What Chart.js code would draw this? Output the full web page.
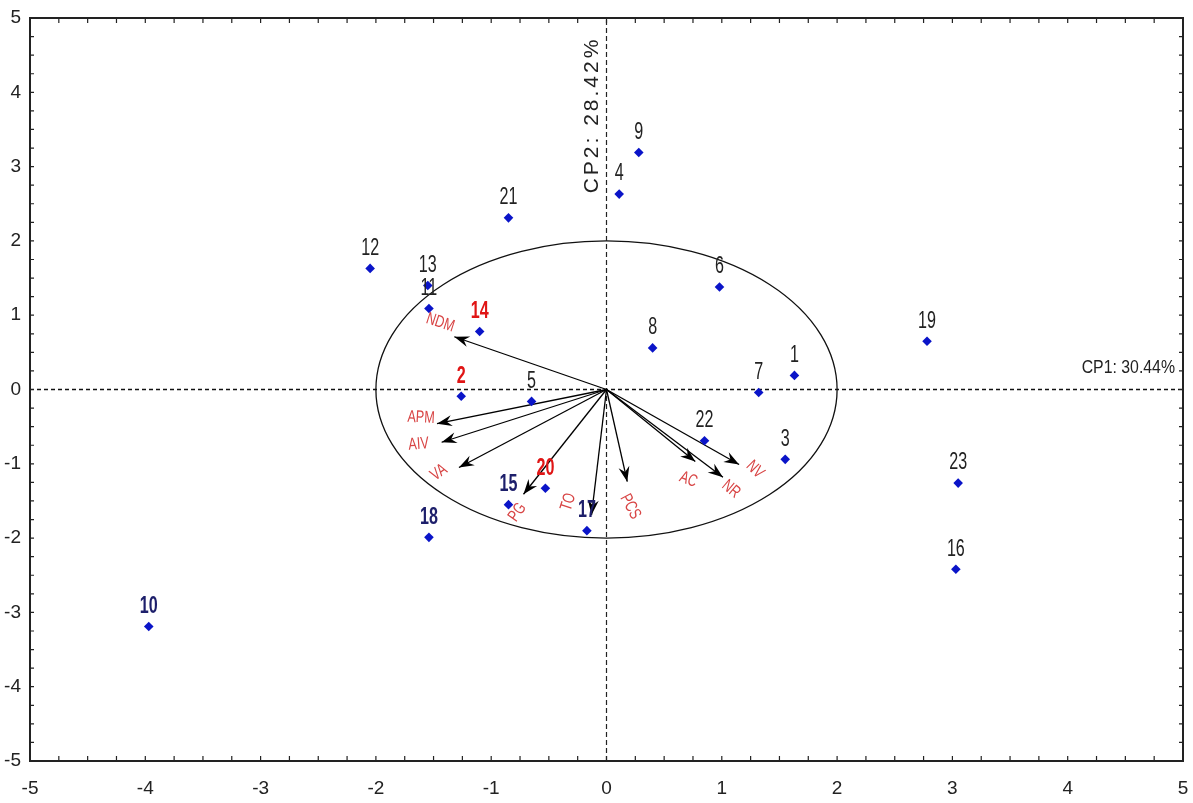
<!DOCTYPE html>
<html lang="en">
<head>
    <meta charset="UTF-8">
    <title>CP1 / CP2 biplot</title>
    <style>
        body {
            margin: 0;
            padding: 0;
            background-color: #fff;
        }
        #wrap {
            width: 1193px;
            height: 803px;
        }
    </style>
</head>
<body>
    <div id="wrap"><canvas id="pcaChart"></canvas></div>

    <script src="https://cdn.jsdelivr.net/npm/chart.js"></script>
    <script>
        // observations (scores)
        var obsLabels = ['1', '2', '3', '4', '5', '6', '7', '8', '9', '10', '11', '12',
                         '13', '14', '15', '16', '17', '18', '19', '20', '21', '22', '23'];
        var obsX = [1.63, -1.26, 1.55, 0.11, -0.65, 0.98, 1.32, 0.40, 0.28, -3.97, -1.54, -2.05,
                    -1.55, -1.10, -0.85, 3.03, -0.17, -1.54, 2.78, -0.53, -0.85, 0.85, 3.05];
        var obsY = [0.19, -0.09, -0.94, 2.63, -0.16, 1.38, -0.04, 0.56, 3.19, -3.19, 1.09, 1.63,
                    1.40, 0.78, -1.55, -2.42, -1.90, -1.99, 0.65, -1.33, 2.31, -0.69, -1.26];
        var redObs = ['2', '14', '20'];
        var navyObs = ['10', '15', '17', '18'];

        // variables (loadings)
        var varNames = ['NDM', 'APM', 'AIV', 'VA', 'PG', 'TO', 'PCS', 'AC', 'NR', 'NV'];
        var varX = [-1.32, -1.47, -1.43, -1.28, -0.72, -0.13, 0.18, 0.77, 1.01, 1.15];
        var varY = [0.71, -0.46, -0.71, -1.05, -1.41, -1.69, -1.24, -0.97, -1.18, -1.01];

        var circleRadius = 2;
        var axisMin = -5, axisMax = 5;
        var cp1Label = 'CP1: 30.44%';
        var cp2Label = 'CP2: 28.42%';

        // label placement for the variable names: [dx px, dy px, angle deg]
        var varLabelPos = [
            [-14, -14, 18], [-16, -6, 3], [-23, 2, -4], [-20, 5, -35], [-6, 18, -55],
            [-23, -13, -72], [3, 25, 62], [-7, 18, 22], [8, 12, 40], [16, 5, 45]
        ];

        function drawText(ctx, s, x, y, font, color, angle, sx) {
            ctx.save();
            ctx.translate(x, y);
            ctx.rotate(angle * Math.PI / 180);
            ctx.scale(sx, 1);
            ctx.font = font;
            ctx.fillStyle = color;
            ctx.textAlign = 'center';
            ctx.textBaseline = 'middle';
            ctx.fillText(s, 0, 0);
            ctx.restore();
        }

        var biplotPlugin = {
            id: 'biplot',
            beforeDatasetsDraw: function (chart) {
                var ctx = chart.ctx, xs = chart.scales.x, ys = chart.scales.y;
                var cx = xs.getPixelForValue(0), cy = ys.getPixelForValue(0);
                var rx = xs.getPixelForValue(circleRadius) - cx;
                var ry = cy - ys.getPixelForValue(circleRadius);
                ctx.save();
                ctx.beginPath();
                ctx.ellipse(cx, cy, rx, ry, 0, 0, Math.PI * 2);
                ctx.strokeStyle = '#111';
                ctx.lineWidth = 1.3;
                ctx.stroke();
                ctx.restore();
            },
            afterDatasetsDraw: function (chart) {
                var ctx = chart.ctx, xs = chart.scales.x, ys = chart.scales.y;
                var a = chart.chartArea;
                var ox = xs.getPixelForValue(0), oy = ys.getPixelForValue(0);

                // arrow heads + variable names
                for (var i = 0; i < varNames.length; i++) {
                    var tx = xs.getPixelForValue(varX[i]), ty = ys.getPixelForValue(varY[i]);
                    var ang = Math.atan2(ty - oy, tx - ox);
                    ctx.save();
                    ctx.translate(tx, ty);
                    ctx.rotate(ang);
                    ctx.beginPath();
                    ctx.moveTo(0, 0);
                    ctx.lineTo(-15, -5.5);
                    ctx.lineTo(-10, 0);
                    ctx.lineTo(-15, 5.5);
                    ctx.closePath();
                    ctx.fillStyle = '#000';
                    ctx.fill();
                    ctx.restore();
                    var p = varLabelPos[i];
                    drawText(ctx, varNames[i], tx + p[0], ty + p[1], '17px "Liberation Sans", Arial, sans-serif', '#d84545', p[2], 0.74);
                }

                // observation labels
                for (var j = 0; j < obsLabels.length; j++) {
                    var px = xs.getPixelForValue(obsX[j]), py = ys.getPixelForValue(obsY[j]);
                    var lab = obsLabels[j];
                    var font = '23px "Liberation Sans", Arial, sans-serif', col = '#222';
                    if (redObs.indexOf(lab) >= 0) { font = 'bold 23px "Liberation Sans", Arial, sans-serif'; col = '#e01515'; }
                    if (navyObs.indexOf(lab) >= 0) { font = 'bold 23px "Liberation Sans", Arial, sans-serif'; col = '#1d1f6b'; }
                    drawText(ctx, lab, px, py - 20, font, col, 0, 0.7);
                }

                // axis titles
                ctx.save();
                ctx.font = '18px "Liberation Sans", Arial, sans-serif';
                ctx.fillStyle = '#222';
                ctx.translate(a.right - 8, ys.getPixelForValue(0) - 21);
                ctx.scale(0.88, 1);
                ctx.textAlign = 'right';
                ctx.textBaseline = 'middle';
                ctx.fillText(cp1Label, 0, 0);
                ctx.restore();

                ctx.save();
                ctx.font = '21px "Liberation Sans", Arial, sans-serif';
                ctx.fillStyle = '#222';
                ctx.letterSpacing = '3px';
                ctx.translate(xs.getPixelForValue(0) - 14, a.top + 97);
                ctx.rotate(-Math.PI / 2);
                ctx.textAlign = 'center';
                ctx.textBaseline = 'middle';
                ctx.fillText(cp2Label, 0, 0);
                ctx.restore();

                // frame with inner ticks every 0.25
                ctx.save();
                ctx.strokeStyle = '#222';
                ctx.lineWidth = 1.2;
                ctx.beginPath();
                for (var k = axisMin * 4; k <= axisMax * 4; k++) {
                    var v = k / 4;
                    var gx = xs.getPixelForValue(v), gy = ys.getPixelForValue(v);
                    ctx.moveTo(gx, a.bottom); ctx.lineTo(gx, a.bottom - 5);
                    ctx.moveTo(gx, a.top); ctx.lineTo(gx, a.top + 5);
                    ctx.moveTo(a.left, gy); ctx.lineTo(a.left + 4, gy);
                    ctx.moveTo(a.right, gy); ctx.lineTo(a.right - 4, gy);
                }
                ctx.stroke();
                ctx.lineWidth = 2;
                ctx.strokeRect(a.left, a.top, a.right - a.left, a.bottom - a.top);
                ctx.restore();
            }
        };

        var datasets = [];
        datasets.push({
            label: 'obs',
            data: obsX.map(function (x, i) { return { x: x, y: obsY[i] }; }),
            pointStyle: 'rectRot',
            pointRadius: 4.8,
            backgroundColor: '#0a14c8',
            borderColor: '#0a14c8',
            borderWidth: 0,
            order: 0
        });
        datasets.push({
            data: [{ x: axisMin, y: 0 }, { x: axisMax, y: 0 }],
            showLine: true, pointRadius: 0, borderColor: '#111', borderWidth: 1.6,
            borderDash: [4, 3], order: 2
        });
        datasets.push({
            data: [{ x: 0, y: axisMin }, { x: 0, y: axisMax }],
            showLine: true, pointRadius: 0, borderColor: '#222', borderWidth: 1.2,
            borderDash: [5, 3], order: 2
        });
        for (var i = 0; i < varNames.length; i++) {
            datasets.push({
                data: [{ x: 0, y: 0 }, { x: varX[i], y: varY[i] }],
                showLine: true, pointRadius: 0, borderColor: '#000', borderWidth: 1.3, order: 1
            });
        }

        var tickFont = { family: '"Liberation Sans Narrow", "Arial Narrow", "Liberation Sans", Arial, sans-serif', size: 19 };

        var ctx = document.getElementById('pcaChart').getContext('2d');
        var pcaChart = new Chart(ctx, {
            type: 'scatter',
            data: { datasets: datasets },
            options: {
                responsive: true,
                maintainAspectRatio: false,
                animation: false,
                layout: { padding: { top: 18, right: 10, left: 0, bottom: 0 } },
                plugins: { legend: { display: false }, tooltip: { enabled: false } },
                scales: {
                    x: {
                        min: axisMin, max: axisMax,
                        grid: { display: false, drawTicks: false },
                        border: { display: false },
                        ticks: { stepSize: 1, padding: 16, color: '#222', font: tickFont, maxRotation: 0 },
                        afterFit: function (s) { s.height = 42; s.paddingLeft = 0; s.paddingRight = 0; }
                    },
                    y: {
                        min: axisMin, max: axisMax,
                        grid: { display: false, drawTicks: false },
                        border: { display: false },
                        ticks: { stepSize: 1, padding: 9, color: '#222', font: tickFont },
                        afterFit: function (s) { s.width = 30; s.paddingTop = 0; s.paddingBottom = 0; }
                    }
                }
            },
            plugins: [biplotPlugin]
        });
    </script>
</body>
</html>
